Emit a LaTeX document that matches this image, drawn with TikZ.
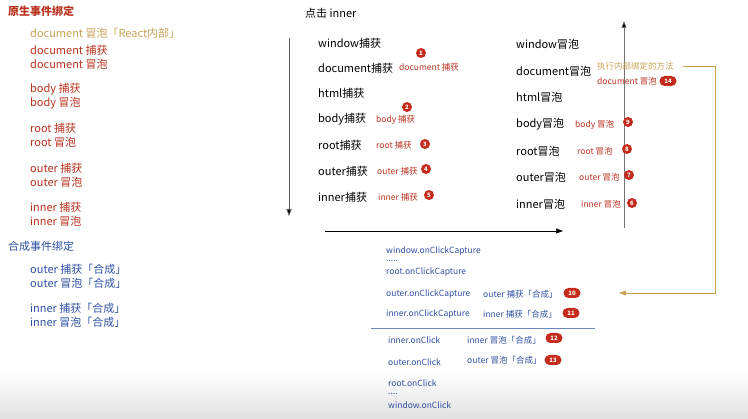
\documentclass[tikz,border=0pt]{standalone}
\usepackage{fontspec}
\setmainfont{Noto Sans CJK SC}
\usetikzlibrary{arrows.meta,positioning,shapes.misc}

\definecolor{natred}{HTML}{B8321F}
\definecolor{synblue}{HTML}{2E4FA3}
\definecolor{gold}{HTML}{C9A257}
\definecolor{badgered}{HTML}{C42B1C}

\begin{document}
\begin{tikzpicture}[
  x=1pt, y=-1pt,
  txt/.style={anchor=west, inner sep=0pt, font=\fontsize{11}{13}\selectfont},
  hdr/.style={txt, font=\fontsize{11}{13}\selectfont\bfseries},
  nat/.style={txt, text=natred},
  syn/.style={txt, text=synblue},
  note/.style={anchor=west, inner sep=0pt, font=\fontsize{8.5}{10}\selectfont, text=natred},
  code/.style={anchor=west, inner sep=0pt, font=\fontsize{8.5}{10}\selectfont, text=synblue},
  badge/.style={circle, fill=badgered, text=white, inner sep=0pt, minimum size=10pt,
    font=\fontsize{6}{6}\selectfont\bfseries},
  pill/.style={rounded rectangle, fill=badgered, text=white, inner sep=0pt,
    minimum height=10pt, minimum width=17pt, font=\fontsize{6}{6}\selectfont\bfseries},
  arr/.style={-{Triangle[length=7pt, width=5pt]}, semithick},
]
\useasboundingbox (0,0) rectangle (748,419);
\shade[top color=white, bottom color=black!12] (0,372) rectangle (748,419);

% ── native binding list ──────────────────────────────────────────────────
\node[hdr, text=natred] (hNat) at (8,11) {原生事件绑定};
\node[txt, text=gold] (docR) at (30,33) {document 冒泡「React内部」};
\node[nat] (docC) at (30,50) {document 捕获};
\node[nat] (docB) at (30,64) {document 冒泡};
\node[nat] (bodyC) at (30,89) {body 捕获};
\node[nat] (bodyB) at (30,103) {body 冒泡};
\node[nat] (rootC) at (30,128) {root 捕获};
\node[nat] (rootB) at (30,142) {root 冒泡};
\node[nat] (outerC) at (30,168) {outer 捕获};
\node[nat] (outerB) at (30,182) {outer 冒泡};
\node[nat] (innerC) at (30,207) {inner 捕获};
\node[nat] (innerB) at (30,221) {inner 冒泡};

% ── synthetic binding list ───────────────────────────────────────────────
\node[hdr, text=synblue, font=\fontsize{11}{13}\selectfont] (hSyn) at (8,246) {合成事件绑定};
\node[syn] (sOuterC) at (30,269) {outer 捕获「合成」};
\node[syn] (sOuterB) at (30,283) {outer 冒泡「合成」};
\node[syn] (sInnerC) at (30,308) {inner 捕获「合成」};
\node[syn] (sInnerB) at (30,322) {inner 冒泡「合成」};

% ── capture phase ────────────────────────────────────────────────────────
\node[txt] (click) at (305,13) {点击 inner};
\node[txt] (cWin) at (318,43) {window捕获};
\node[txt] (cDoc) at (318,68) {document捕获};
\node[txt] (cHtml) at (318,93) {html捕获};
\node[txt] (cBody) at (318,119) {body捕获};
\node[txt] (cRoot) at (318,145) {root捕获};
\node[txt] (cOuter) at (318,171) {outer捕获};
\node[txt] (cInner) at (318,197) {inner捕获};
\coordinate (downTop) at (289,38);
\coordinate (downEnd) at (289,216);
\draw[arr, black!65, -{Triangle[length=7pt, width=5pt, fill=black]}] (downTop) -- (downEnd);

\node[note] (nDocC) at (399,67) {document 捕获};
\node[badge] (b1) at (421,53) {1};
\node[note] (nBodyC) at (376,120) {body 捕获};
\node[badge] (b2) at (407,107) {2};
\node[note] (nRootC) at (376,145) {root 捕获};
\node[badge] (b3) at (425,144) {3};
\node[note] (nOuterC) at (377,171) {outer 捕获};
\node[badge] (b4) at (426,169) {4};
\node[note] (nInnerC) at (378,197) {inner 捕获};
\node[badge] (b5) at (429,195) {5};

\coordinate (hStart) at (325,231);
\coordinate (hEnd) at (563,231);
\draw[arr] (hStart) -- (hEnd);

% ── bubble phase ─────────────────────────────────────────────────────────
\node[txt] (bWin) at (516,44) {window冒泡};
\node[txt] (bDoc) at (516,71) {document冒泡};
\node[txt] (bHtml) at (516,97) {html冒泡};
\node[txt] (bBody) at (516,124) {body冒泡};
\node[txt] (bRoot) at (516,151) {root冒泡};
\node[txt] (bOuter) at (516,177) {outer冒泡};
\node[txt] (bInner) at (516,204) {inner冒泡};
\coordinate (upStart) at (624,228);
\coordinate (upTop) at (624,21);
\draw[arr, black!55, -{Triangle[length=7pt, width=5pt, fill=black]}] (upStart) -- (upTop);

\node[note, text=gold] (exec) at (597,66) {执行内部绑定的方法};
\node[note] (nDocB) at (597,81) {document 冒泡};
\node[pill] (b14) at (668,81) {14};
\node[note] (nBodyB) at (575,125) {body 冒泡};
\node[badge] (b9) at (628,122) {9};
\node[note] (nRootB) at (577,151) {root 冒泡};
\node[badge] (b8) at (627,149) {8};
\node[note] (nOuterB) at (579,177) {outer 冒泡};
\node[badge] (b7) at (629,175) {7};
\node[note] (nInnerB) at (581,204) {inner 冒泡};
\node[badge] (b6) at (632,203) {6};

% ── synthetic dispatch ───────────────────────────────────────────────────
\node[code] (wCap) at (386,251) {window.onClickCapture};
\node[code] (dots1) at (386,261) {.....};
\node[code] (rCap) at (386,272) {root.onClickCapture};
\node[code] (oCap) at (386,294) {outer.onClickCapture};
\node[code] (iCap) at (386,314) {inner.onClickCapture};
\node[code] (oCapN) at (483,294) {outer 捕获「合成」};
\node[pill] (b10) at (572,293) {10};
\node[code] (iCapN) at (483,314) {inner 捕获「合成」};
\node[pill] (b11) at (571,313) {11};
\coordinate (sepL) at (371,328);
\coordinate (sepR) at (595,328);
\draw[synblue!70, thick] (sepL) -- (sepR);
\node[code] (iClk) at (388,340) {inner.onClick};
\node[code] (iClkN) at (467,340) {inner 冒泡「合成」};
\node[pill] (b12) at (554,338) {12};
\node[code] (oClk) at (388,362) {outer.onClick};
\node[code] (oClkN) at (467,360) {outer 冒泡「合成」};
\node[pill] (b13) at (553,360) {13};
\node[code] (rClk) at (388,383) {root.onClick};
\node[code] (dots2) at (388,394) {....};
\node[code] (wClk) at (388,405) {window.onClick};

% ── link to React internals ──────────────────────────────────────────────
\coordinate (gA) at (715,66);
\coordinate (gB) at (715,293);
\coordinate (gEnd) at (619,293);
\draw[gold, -{Triangle[length=7pt, width=5pt]}]
  ([xshift=9pt]exec.east) -- (gA) -- (gB) -- (gEnd);

\end{tikzpicture}
\end{document}
